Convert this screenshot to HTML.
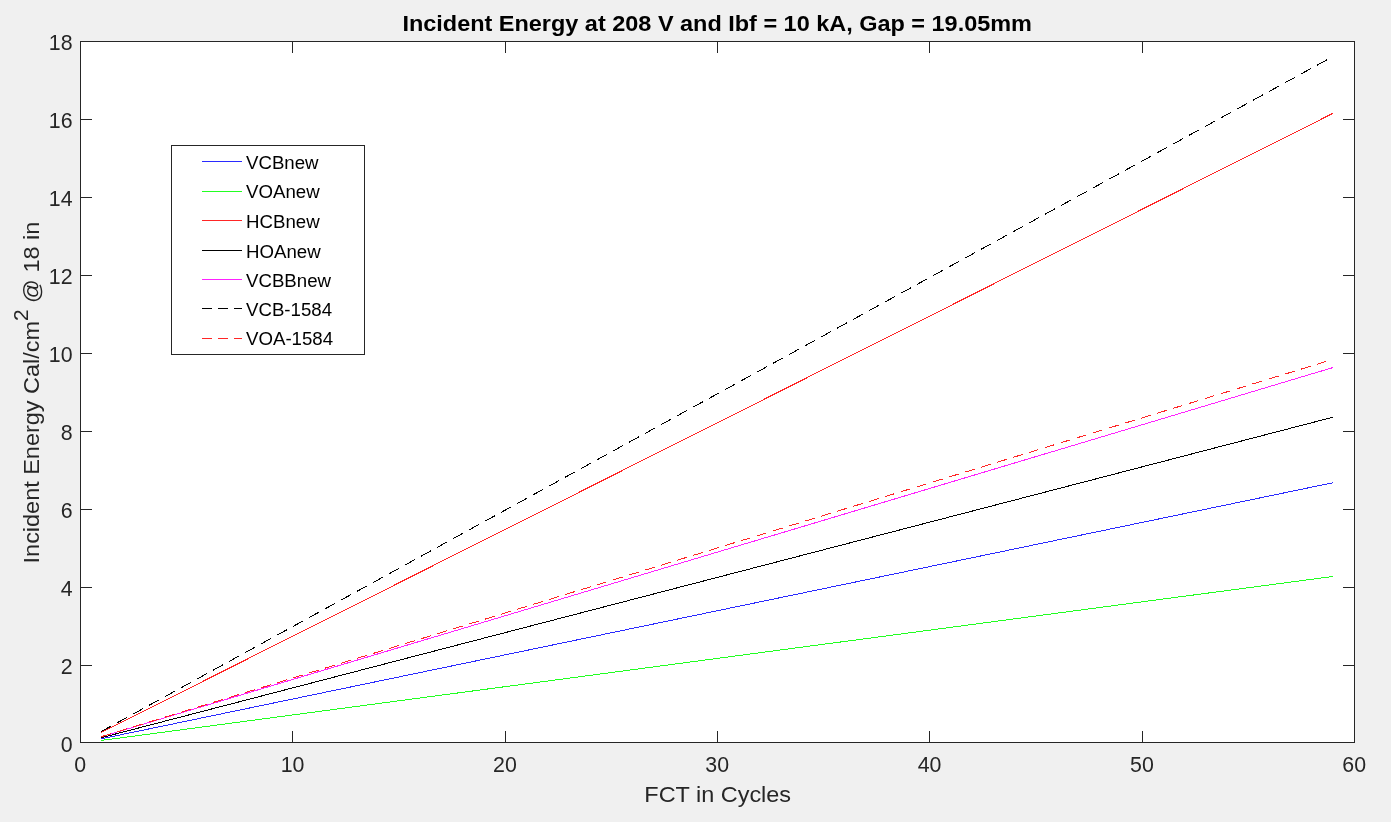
<!DOCTYPE html>
<html lang="en"><head><meta charset="utf-8"><title>Incident Energy at 208 V and Ibf = 10 kA, Gap = 19.05mm</title>
<style>html,body{margin:0;padding:0;background:#f0f0f0;overflow:hidden}svg{display:block}text{font-family:"Liberation Sans", Arial, Helvetica, sans-serif;fill:#262626}.tk{font-size:21.33px}.lb{font-size:22.5px}.lg{font-size:19.2px;fill:#000}.tt{font-size:22.3px;font-weight:bold;fill:#000}.ax{stroke:#262626;stroke-width:1;fill:none;shape-rendering:crispEdges}.ln{stroke-width:1;fill:none;shape-rendering:crispEdges}</style></head><body>
<svg width="1391" height="822" viewBox="0 0 1391 822">
<rect x="0" y="0" width="1391" height="822" fill="#f0f0f0"/>
<rect x="80" y="41" width="1275" height="702" fill="#ffffff"/>
<g class="ln">
<line x1="100.93" y1="738.90" x2="1333.27" y2="482.66" stroke="#2a2aff"/>
<line x1="100.93" y1="740.48" x2="1333.27" y2="576.40" stroke="#22ff22"/>
<line x1="100.93" y1="732.63" x2="1333.27" y2="113.16" stroke="#ff2626"/>
<line x1="100.93" y1="737.79" x2="1333.27" y2="417.12" stroke="#000000"/>
<line x1="100.93" y1="736.94" x2="1333.27" y2="367.46" stroke="#ff22ff"/>
<line x1="100.93" y1="731.67" x2="1333.27" y2="56.30" stroke="#000000" stroke-dasharray="11.18 7.07"/>
<line x1="100.93" y1="736.80" x2="1333.27" y2="359.29" stroke="#ff2626" stroke-dasharray="10.25 6.48"/>
</g>
<path class="ax" d="M292.8 742.5V731.0M292.8 41.5V53.0M505.2 742.5V731.0M505.2 41.5V53.0M717.5 742.5V731.0M717.5 41.5V53.0M929.8 742.5V731.0M929.8 41.5V53.0M1142.2 742.5V731.0M1142.2 41.5V53.0M80.5 665.5H92.0M1354.5 665.5H1343.0M80.5 587.5H92.0M1354.5 587.5H1343.0M80.5 509.5H92.0M1354.5 509.5H1343.0M80.5 431.5H92.0M1354.5 431.5H1343.0M80.5 353.5H92.0M1354.5 353.5H1343.0M80.5 275.5H92.0M1354.5 275.5H1343.0M80.5 197.5H92.0M1354.5 197.5H1343.0M80.5 119.5H92.0M1354.5 119.5H1343.0"/>
<rect class="ax" x="80.5" y="41.5" width="1274" height="701"/>
<g class="tk" text-anchor="middle">
<text x="80.2" y="772.1">0</text>
<text x="292.5" y="772.1">10</text>
<text x="504.9" y="772.1">20</text>
<text x="717.2" y="772.1">30</text>
<text x="929.5" y="772.1">40</text>
<text x="1141.9" y="772.1">50</text>
<text x="1354.2" y="772.1">60</text>
</g>
<g class="tk" text-anchor="end">
<text x="72.5" y="751.5">0</text>
<text x="72.5" y="673.6">2</text>
<text x="72.5" y="595.7">4</text>
<text x="72.5" y="517.8">6</text>
<text x="72.5" y="439.9">8</text>
<text x="72.5" y="362.1">10</text>
<text x="72.5" y="283.5">12</text>
<text x="72.5" y="205.6">14</text>
<text x="72.5" y="127.7">16</text>
<text x="72.5" y="49.8">18</text>
</g>
<text class="lb" text-anchor="middle" transform="translate(717.7 801.7) scale(1.043 1)">FCT in Cycles</text>
<text class="lb" text-anchor="middle" transform="translate(39.2 392.6) rotate(-90) scale(1.043 1)">Incident Energy Cal/cm<tspan dy="-10.8" font-size="20px">2</tspan><tspan dy="10.8"> @ 18 in</tspan></text>
<text class="tt" text-anchor="middle" transform="translate(717.2 31) scale(1.0525 1)">Incident Energy at 208 V and Ibf = 10 kA, Gap = 19.05mm</text>
<rect x="171.5" y="145.5" width="193" height="209" fill="#ffffff" stroke="#262626" stroke-width="1" shape-rendering="crispEdges"/>
<line class="ln" x1="202" y1="161.5" x2="242" y2="161.5" stroke="#2a2aff"/>
<text class="lg" transform="translate(246 169.1) scale(0.972 1)">VCBnew</text>
<line class="ln" x1="202" y1="191.5" x2="242" y2="191.5" stroke="#22ff22"/>
<text class="lg" transform="translate(246 198.4) scale(0.972 1)">VOAnew</text>
<line class="ln" x1="202" y1="220.5" x2="242" y2="220.5" stroke="#ff2626"/>
<text class="lg" transform="translate(246 228.1) scale(0.972 1)">HCBnew</text>
<line class="ln" x1="202" y1="250.5" x2="242" y2="250.5" stroke="#000000"/>
<text class="lg" transform="translate(246 257.7) scale(0.972 1)">HOAnew</text>
<line class="ln" x1="202" y1="279.5" x2="242" y2="279.5" stroke="#ff22ff"/>
<text class="lg" transform="translate(246 286.6) scale(0.972 1)">VCBBnew</text>
<line class="ln" x1="202" y1="308.5" x2="242" y2="308.5" stroke="#000000" stroke-dasharray="10 6"/>
<text class="lg" transform="translate(246 316.4) scale(0.972 1)">VCB-1584</text>
<line class="ln" x1="202" y1="338.5" x2="242" y2="338.5" stroke="#ff2626" stroke-dasharray="10 6"/>
<text class="lg" transform="translate(246 345.4) scale(0.972 1)">VOA-1584</text>
</svg></body></html>
